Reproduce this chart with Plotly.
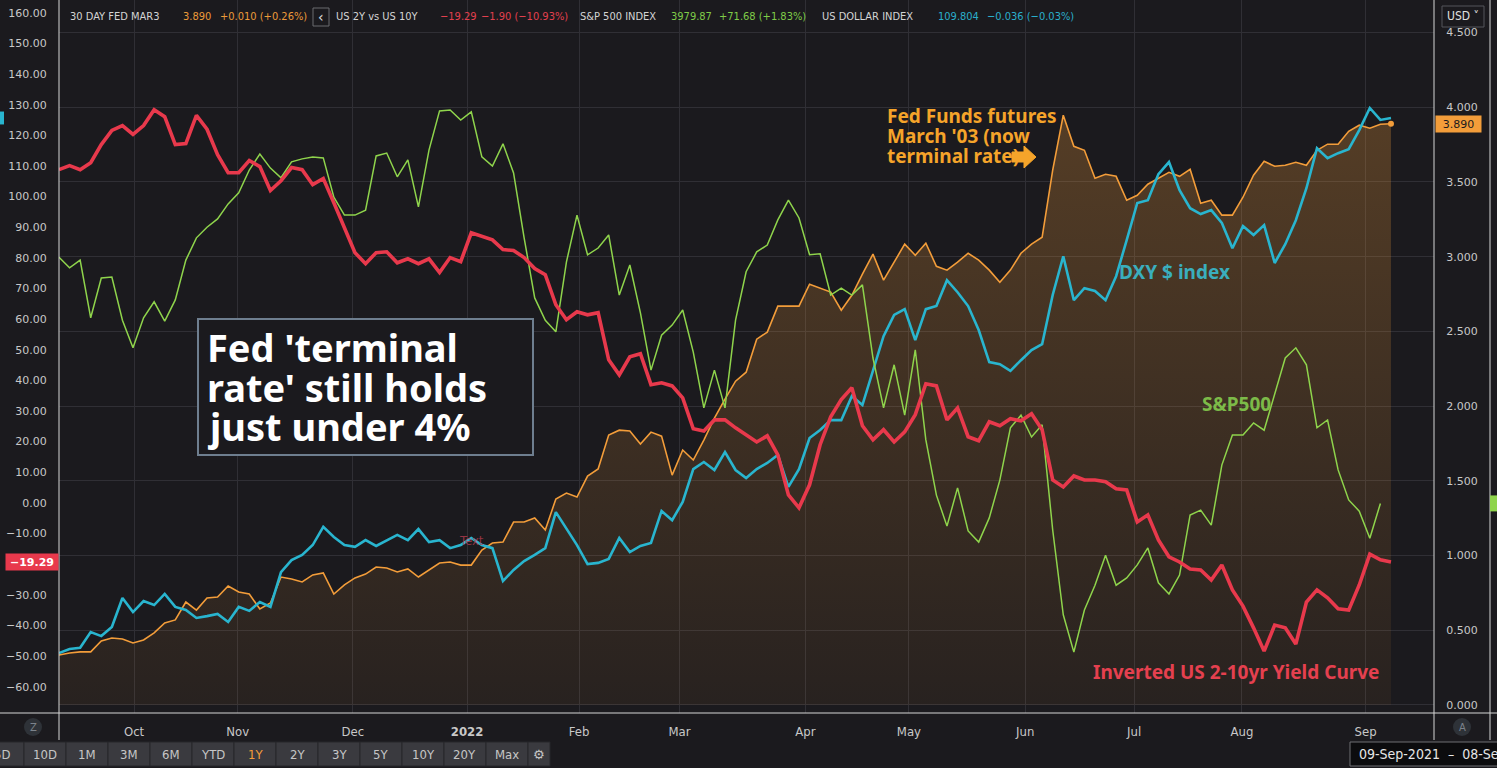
import plotly.graph_objects as go

# ---------------- data (one point = 2 trading days, 09-Sep-2021 .. 08-Sep-2022) ----------------
# 30 DAY FED MAR3 (Fed funds futures, %)
fed = [0.334,0.348,0.355,0.355,0.428,0.448,0.441,0.415,0.435,0.482,
       0.549,0.569,0.689,0.635,0.716,0.722,0.796,0.756,0.742,0.642,
       0.682,0.856,0.843,0.823,0.870,0.883,0.742,0.803,0.850,0.876,
       0.923,0.916,0.890,0.910,0.856,0.903,0.950,0.957,0.936,0.936,
       1.037,1.084,1.090,1.224,1.224,1.251,1.171,1.378,1.418,1.391,
       1.532,1.579,1.806,1.839,1.833,1.746,1.826,1.799,1.538,1.706,
       1.639,1.773,1.920,2.047,2.167,2.227,2.448,2.495,2.669,2.669,
       2.669,2.816,2.789,2.763,2.642,2.742,2.883,3.017,2.843,2.963,
       3.084,3.010,3.090,2.936,2.910,2.963,3.023,2.977,2.910,2.829,
       2.910,3.023,3.084,3.130,3.579,3.947,3.739,3.712,3.525,3.552,
       3.538,3.378,3.411,3.485,3.525,3.565,3.538,3.585,3.358,3.378,
       3.278,3.278,3.398,3.545,3.639,3.605,3.612,3.632,3.612,3.712,
       3.753,3.753,3.839,3.880,3.860,3.886,3.890]

# US 2Y vs US 10Y spread (bp)
spread = [108.8,110.1,108.8,111.1,117.0,121.6,123.2,120.3,123.2,128.4,
          126.1,117.0,117.3,126.5,122.0,113.7,107.8,107.8,111.8,109.8,
          102.0,105.2,109.5,108.8,103.9,105.9,98.0,89.9,81.7,78.1,
          81.7,82.0,78.4,79.7,78.1,79.7,75.2,80.1,78.8,88.2,
          86.9,85.9,82.7,82.4,80.1,76.5,74.5,64.7,59.8,62.4,
          61.4,62.1,46.7,41.8,47.7,48.7,38.6,39.2,38.2,34.3,
          24.2,23.5,27.1,27.1,24.5,22.2,19.9,21.9,15.7,2.6,
          -1.6,5.9,19.0,28.1,33.7,37.6,25.2,20.6,23.9,19.9,
          23.2,28.8,38.9,38.2,27.1,31.0,21.6,20.3,26.5,25.2,
          27.5,26.8,29.1,23.9,7.5,5.2,8.8,7.5,7.5,6.9,
          4.6,4.2,-6.2,-3.9,-12.1,-17.6,-19.3,-21.6,-21.9,-25.2,
          -20.3,-28.4,-33.7,-40.8,-48.4,-39.9,-40.8,-46.1,-32.4,-28.4,
          -31.0,-34.6,-35.0,-26.8,-16.7,-18.6,-19.29]

# S&P 500 index
spx = [4488,4466,4482,4363,4445,4447,4358,4301,4363,4396,
       4356,4400,4482,4528,4550,4567,4598,4621,4668,4701,
       4672,4652,4685,4691,4695,4693,4612,4575,4575,4585,
       4697,4703,4654,4689,4592,4709,4790,4792,4771,4788,
       4695,4676,4722,4662,4528,4404,4358,4334,4478,4575,
       4493,4507,4534,4410,4472,4373,4255,4327,4348,4379,
       4292,4177,4255,4177,4358,4458,4499,4513,4565,4606,
       4569,4493,4495,4410,4424,4410,4431,4280,4177,4266,
       4162,4297,4111,3997,3933,4012,3923,3900,3950,4028,
       4136,4162,4117,4142,3925,3750,3673,3760,3811,3873,
       3811,3826,3853,3888,3816,3793,3832,3956,3966,3935,
       4059,4121,4121,4146,4131,4208,4280,4301,4266,4136,
       4152,4049,3987,3964,3908,3979.87]

# US Dollar index (DXY)
dxy = [92.41,92.54,92.58,93.09,92.96,93.26,94.20,93.74,94.10,93.97,
       94.33,93.91,93.81,93.55,93.61,93.68,93.42,93.91,93.78,94.07,
       93.91,95.04,95.43,95.60,95.92,96.51,96.18,95.92,95.86,96.08,
       95.89,96.08,96.25,96.08,96.44,96.02,96.08,95.82,95.92,96.15,
       95.92,95.82,94.75,95.11,95.40,95.60,95.82,96.99,96.47,95.92,
       95.30,95.34,95.47,96.15,95.69,95.89,95.99,97.03,96.73,97.32,
       98.39,98.62,98.36,98.94,98.36,98.10,98.39,98.59,98.85,97.81,
       98.39,99.40,99.66,99.98,99.98,100.76,100.47,101.61,102.71,103.40,
       103.59,102.58,103.59,103.69,104.53,104.14,103.69,102.91,101.87,101.80,
       101.58,101.93,102.26,102.45,104.05,105.31,103.88,104.27,104.18,103.88,
       104.66,105.83,107.04,107.13,107.98,108.37,107.46,106.87,106.68,106.81,
       106.39,105.57,106.29,106.00,106.32,105.09,105.70,106.48,107.52,108.82,
       108.50,108.66,108.79,109.41,110.13,109.74,109.804]

# x-axis month labels (in point-index units)
month_pos = [7.1, 16.9, 27.8, 38.6, 49.2, 58.7, 70.6, 80.4, 91.4, 101.7, 111.9, 123.6]
month_lbl = ["Oct", "Nov", "Dec", "<b>2022</b>", "Feb", "Mar", "Apr", "May", "Jun", "Jul", "Aug", "Sep"]
spread_ticks = list(range(-60, 161, 10))
rate_ticks = [0.0, 0.5, 1.0, 1.5, 2.0, 2.5, 3.0, 3.5, 4.0, 4.5]

# ---------------- style ----------------
W, H = 1497, 768
def px(x): return x / W
def py(y): return 1 - y / H

BG = "#1b1a1e"
GRID = "#302f35"
AXIS_TXT = "#c8c8c8"
LINE_W = "#d6d6d6"
NARROW = "Liberation Sans Narrow, Arial Narrow, DejaVu Sans Condensed, Roboto, sans-serif"
LABEL = "Noto Sans, Open Sans, sans-serif"
ORANGE = "#f39d3a"
RED = "#e8394c"
GREEN = "#8fd44c"
CYAN = "#29b5cf"

idx = list(range(len(fed)))

fig = go.Figure()
fig.add_trace(go.Scatter(
    x=idx, y=fed, yaxis="y", mode="lines", line=dict(color=ORANGE, width=1.6),
    fill="tozeroy",
    fillgradient=dict(type="vertical", start=0, stop=4.0,
                      colorscale=[[0, "rgba(243,157,58,0.06)"], [1, "rgba(243,157,58,0.27)"]]),
    hoverinfo="skip"))
fig.add_trace(go.Scatter(x=idx, y=dxy, yaxis="y2", mode="lines",
                         line=dict(color=CYAN, width=2.6), hoverinfo="skip"))
fig.add_trace(go.Scatter(x=idx[:len(spx)], y=spx, yaxis="y3", mode="lines",
                         line=dict(color=GREEN, width=1.5), hoverinfo="skip"))
fig.add_trace(go.Scatter(x=idx, y=spread, yaxis="y4", mode="lines",
                         line=dict(color=RED, width=3.6), hoverinfo="skip"))
fig.add_trace(go.Scatter(x=[idx[-1]], y=[fed[-1]], yaxis="y", mode="markers",
                         marker=dict(color=ORANGE, size=6), hoverinfo="skip"))

ydom = [py(713), 1]
fig.update_layout(
    width=W, height=H, margin=dict(l=0, r=0, t=0, b=0),
    paper_bgcolor=BG, plot_bgcolor=BG, showlegend=False, hovermode=False,
    xaxis=dict(domain=[px(59), px(1434)], range=[0, 130.07],
               tickvals=month_pos, ticktext=month_lbl,
               showgrid=True, gridcolor=GRID, gridwidth=1, zeroline=False, showline=False,
               ticks="outside", ticklen=6, tickcolor="rgba(0,0,0,0)",
               tickfont=dict(family=NARROW, size=13, color=AXIS_TXT), fixedrange=True),
    yaxis=dict(domain=ydom, range=[-0.054, 4.718], side="right", anchor="x",
               tickvals=rate_ticks, tickformat=".3f",
               showgrid=True, gridcolor=GRID, zeroline=False, showline=False,
               ticks="outside", ticklen=9, tickcolor="rgba(0,0,0,0)",
               tickfont=dict(family="DejaVu Sans", size=11, color=AXIS_TXT), fixedrange=True),
    yaxis2=dict(domain=ydom, overlaying="y", range=[90.46, 113.64], visible=False, fixedrange=True),
    yaxis3=dict(domain=ydom, overlaying="y", range=[3547.3, 5018.9], visible=False, fixedrange=True),
    yaxis4=dict(domain=ydom, overlaying="y", side="left", anchor="x", range=[-68.6, 164.2],
                tickvals=spread_ticks, tickformat=".2f", showgrid=False, zeroline=False,
                showline=False, ticks="outside", ticklen=9, tickcolor="rgba(0,0,0,0)",
                tickfont=dict(family="DejaVu Sans", size=11, color=AXIS_TXT), fixedrange=True),
)

shapes = []
ann = []

def vline(x, y0, y1, color=LINE_W):
    shapes.append(dict(type="line", xref="paper", yref="paper", x0=px(x), x1=px(x),
                       y0=py(y0), y1=py(y1), line=dict(color=color, width=1)))

def rect(x0, y0, x1, y1, fill, line, lw=1):
    shapes.append(dict(type="rect", xref="paper", yref="paper", x0=px(x0), x1=px(x1),
                       y0=py(y1), y1=py(y0), fillcolor=fill, line=dict(color=line, width=lw)))

def text(x, y, s, color, size, family=LABEL, xanchor="left"):
    ann.append(dict(xref="paper", yref="paper", x=px(x), y=py(y), text=s, showarrow=False,
                    xanchor=xanchor, yanchor="middle",
                    font=dict(family=family, size=size, color=color)))

# frame lines
vline(59, 0, 740)
vline(1434, 0, 740)
vline(1490, 0, 740)
shapes.append(dict(type="line", xref="paper", yref="paper", x0=0, x1=1, y0=py(713), y1=py(713),
                   line=dict(color=LINE_W, width=1)))

# header legend
hdr = [
    (68, "30 DAY FED MAR3", "#d4d4d4"),
    (181, f"{fed[-1]:.3f}", "#ec9a3a"),
    (218, "+0.010 (+0.26%)", "#ec9a3a"),
    (334, "US 2Y vs US 10Y", "#d4d4d4"),
    (438, f"\u2212{abs(spread[-1]):.2f}", "#e2404e"),
    (479, "\u22121.90 (\u221210.93%)", "#e2404e"),
    (578, "S&P 500 INDEX", "#d4d4d4"),
    (669, f"{spx[-1]:.2f}", "#7fcc48"),
    (717, "+71.68 (+1.83%)", "#7fcc48"),
    (820, "US DOLLAR INDEX", "#d4d4d4"),
    (936, f"{dxy[-1]:.3f}", "#2aaecb"),
    (985, "\u22120.036 (\u22120.03%)", "#2aaecb"),
]
for x, s, c in hdr:
    text(x, 16, s, c, 11, NARROW)
rect(313, 8, 329, 26, "rgba(0,0,0,0)", "#6a6a6e")
text(321, 17, "\u2039", "#e0e0e0", 14, "DejaVu Sans", "center")
rect(1442, 6, 1484, 27, "rgba(0,0,0,0)", "#55555a")
text(1463, 16, "USD \u02c5", "#e0e0e0", 12, NARROW, "center")

# big note box
rect(198, 319, 533, 455, BG, "#6e7e8f", 2)
for y, s in [(347, "Fed 'terminal"), (387, "rate' still holds"), (426, "just under 4%")]:
    text(205, y, f"<b>{s}</b>", "#ffffff", 38)

# series labels
FF = "#f5a42a"
for y, s in [(116, "Fed Funds futures"), (136, "March '03 (now"), (156, "terminal rate)")]:
    text(885, y, f"<b>{s}</b>", FF, 19)
arrow = [(1012, 152), (1024, 152), (1024, 146), (1036, 157), (1024, 168), (1024, 162), (1012, 162)]
path = "M " + " L ".join(f"{px(a):.5f},{py(b):.5f}" for a, b in arrow) + " Z"
shapes.append(dict(type="path", xref="paper", yref="paper", path=path, fillcolor=FF,
                   line=dict(color=FF, width=1)))
text(1117, 272, "<b>DXY $ index</b>", "#3aaebe", 19)
text(1200, 404, "<b>S&P500</b>", "#7cba48", 19)
text(1091, 672, "<b>Inverted US 2-10yr Yield Curve</b>", "#e5404f", 19)
text(457, 540, "Text", "rgba(190,60,80,0.75)", 13, NARROW)

# axis end tags
ann.append(dict(xref="paper", yref="y4", x=px(32), y=spread[-1], showarrow=False,
                xanchor="center", yanchor="middle",
                text=f"<b>\u2212{abs(spread[-1]):.2f}</b>", bgcolor=RED, width=48, height=12,
                borderpad=2, font=dict(family="DejaVu Sans", size=11, color="#ffffff")))
ann.append(dict(xref="paper", yref="y", x=px(1458), y=fed[-1], showarrow=False,
                xanchor="center", yanchor="middle",
                text=f"{fed[-1]:.3f}", bgcolor=ORANGE, width=41, height=12,
                borderpad=2, font=dict(family="DejaVu Sans", size=11, color="#1b1a1e")))
shapes.append(dict(type="rect", xref="paper", yref="y2", x0=0, x1=px(4),
                   y0=dxy[-1] - 0.21, y1=dxy[-1] + 0.21, fillcolor=CYAN, line=dict(width=0)))
shapes.append(dict(type="rect", xref="paper", yref="y3", x0=px(1490), x1=1,
                   y0=spx[-1] - 16.5, y1=spx[-1] + 16.5, fillcolor=GREEN, line=dict(width=0)))

# bottom controls
shapes.append(dict(type="circle", xref="paper", yref="paper", x0=px(24), x1=px(42),
                   y0=py(736), y1=py(718), fillcolor="#2e3238", line=dict(width=0)))
text(33, 727, "Z", "#7c838b", 10, "DejaVu Sans", "center")
shapes.append(dict(type="circle", xref="paper", yref="paper", x0=px(1453), x1=px(1471),
                   y0=py(736), y1=py(718), fillcolor="#2e3238", line=dict(width=0)))
text(1462, 727, "A", "#7c838b", 10, "DejaVu Sans", "center")

buttons = [(-20, 24, "5D"), (24, 66, "10D"), (66, 108, "1M"), (108, 150, "3M"), (150, 192, "6M"),
           (192, 234, "YTD"), (234, 276, "1Y"), (276, 318, "2Y"), (318, 360, "3Y"), (360, 402, "5Y"),
           (402, 444, "10Y"), (444, 486, "20Y"), (486, 528, "Max")]
for x0, x1, s in buttons:
    rect(x0, 742, x1, 766, "#3a3a3f", "#26262a")
    text((x0 + x1) / 2, 754, s, ORANGE if s == "1Y" else "#c6c6c6", 13, NARROW, "center")
rect(528, 742, 550, 766, "#3a3a3f", "#26262a")
text(539, 754, "\u2699", "#c6c6c6", 13, "DejaVu Sans", "center")

rect(1350, 742, 1505, 766, "#0c0c0e", "#6e6e72")
text(1357, 754, "09-Sep-2021  \u2013  08-Sep-2022", "#e6e6e6", 14, NARROW)

fig.update_layout(shapes=shapes, annotations=ann)
fig.write_html("out.html", config={"displayModeBar": False},
               post_script="document.body.style.margin='0';document.body.style.overflow='hidden';")
